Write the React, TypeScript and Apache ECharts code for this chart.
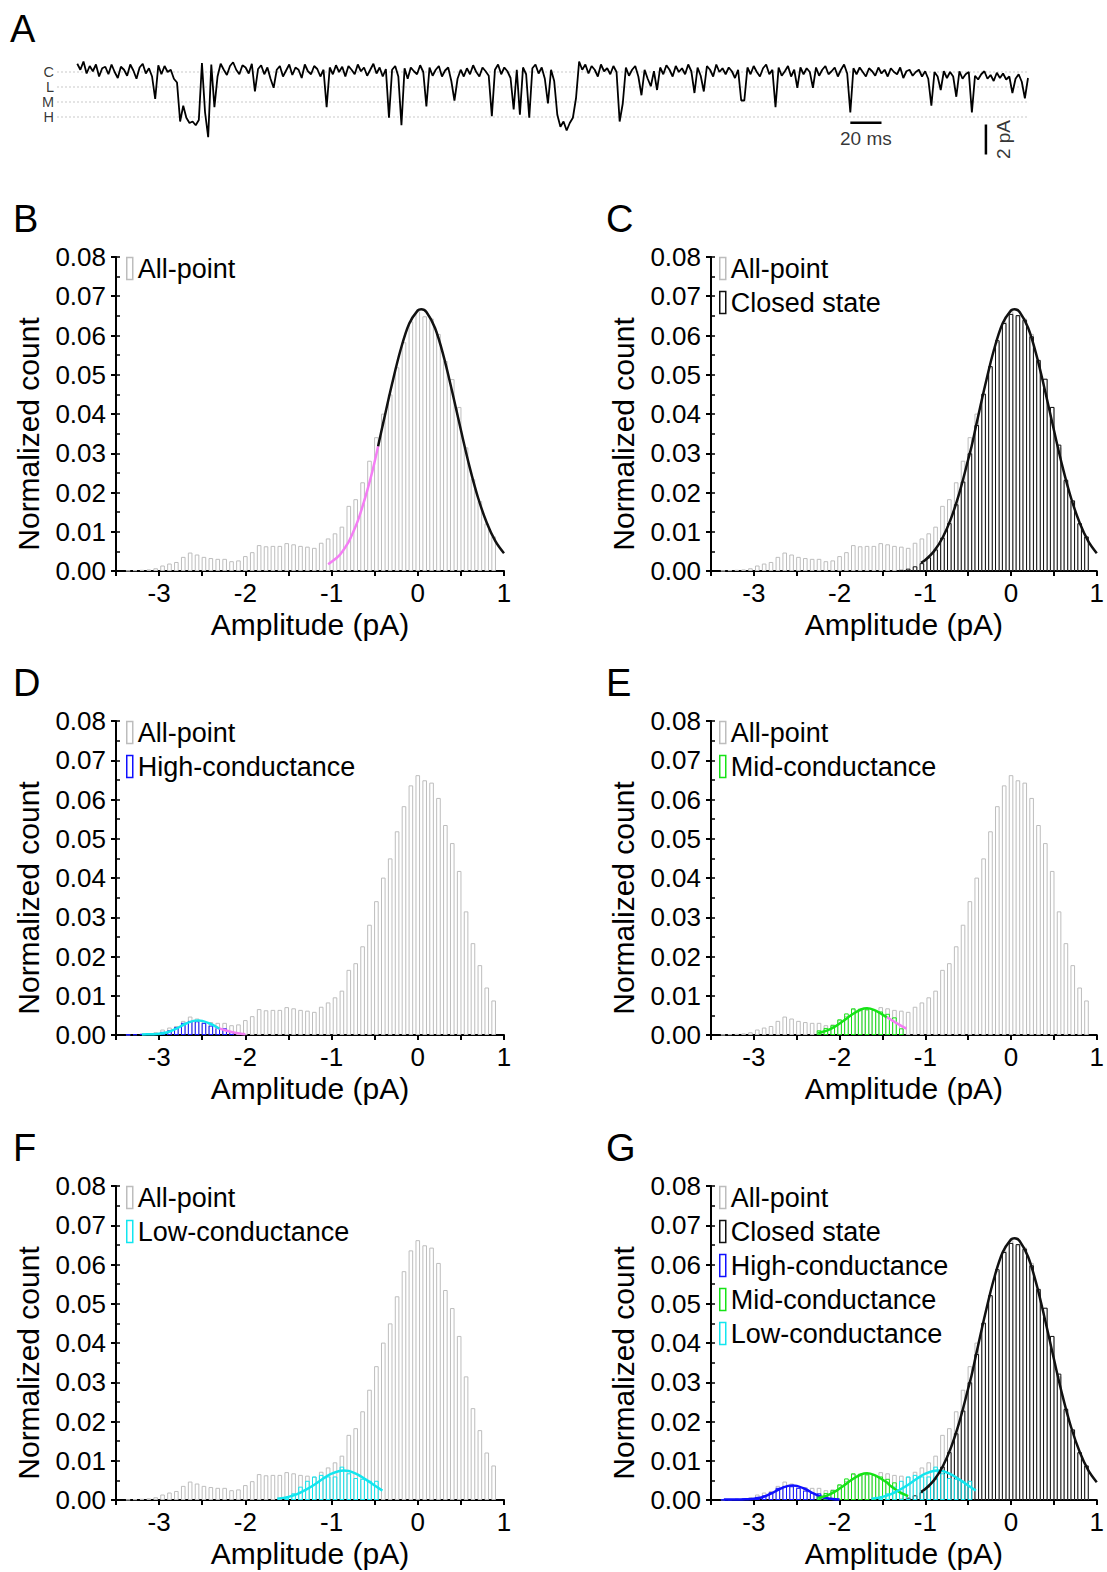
import React, { useEffect, useRef } from 'react';
import * as echarts from 'echarts';

const FONT = '"Liberation Sans", Arial, Helvetica, sans-serif';

// ---------- Panel A: single-channel current trace (pA), one sample every 2 ms ----------
const traceStepMs = 2;
const traceValues = [
  0.55, 0.15, 0.7, -0.1, 0.4, 0.05, 0.5, -0.3, 0.25, 0.35,
  -0.15, 0.5, 0.0, -0.4, 0.35, 0.15, -0.25, 0.5, 0.1, -0.45,
  0.3, 0.55, -0.1, 0.25, -0.3, -1.8, 0.45, -0.15, 0.4, 0.0,
  0.15, -0.45, -0.7, -3.3, -2.25, -3.05, -3.4, -3.3, -3.55, -3.2,
  0.6, -2.7, -4.35, 0.5, -2.35, -0.3, 0.55, 0.15, -0.2, 0.4,
  0.65, 0.15, -0.15, 0.45, 0.3, -0.1, 0.55, -1.3, 0.2, 0.45,
  -0.15, 0.3, -0.45, -1.05, 0.15, 0.4, -0.3, 0.1, 0.5, -0.2,
  0.3, 0.15, -0.4, 0.5, 0.05, -0.15, 0.4, 0.2, -0.3, 0.15,
  -2.35, 0.3, -0.15, 0.45, 0.0, 0.35, -0.3, 0.4, 0.15, -0.15,
  0.5, 0.05, 0.3, -0.25, 0.15, 0.55, -0.1, 0.3, -0.3, 0.2,
  -3.05, 0.15, 0.4, -0.3, -3.55, 0.25, -0.45, 0.3, 0.05, -0.15,
  0.45, 0.0, -2.3, 0.3, -0.25, 0.15, 0.4, -0.3, 0.1, 0.3,
  -0.6, -1.9, -0.45, 0.15, -0.3, 0.25, -0.15, 0.45, 0.0, -0.3,
  0.3, 0.05, -0.25, -2.95, 0.15, 0.5, -0.15, 0.3, 0.05, -0.4,
  -2.5, 0.15, -2.85, 0.3, -0.15, -3.05, 0.25, 0.5, -0.1, 0.3,
  -0.45, -2.1, 0.15, -0.6, -2.85, -3.65, -3.3, -3.9, -3.4, -3.05,
  -1.75, 0.7, 0.15, 0.5, -0.1, 0.4, 0.15, -0.3, 0.5, 0.05,
  0.25, -0.15, 0.4, 0.0, -3.3, -2.1, 0.3, -0.25, 0.15, 0.4,
  -0.3, -1.55, 0.15, -0.45, -0.95, 0.05, -1.2, 0.3, -0.15, 0.45,
  0.15, -0.3, 0.4, 0.0, 0.25, -0.15, 0.5, 0.05, -1.4, 0.3,
  -0.25, -1.3, 0.4, 0.15, -0.3, 0.5, 0.0, 0.25, -0.15, 0.3,
  0.05, -0.4, 0.15, -1.9, -1.9, 0.3, -0.15, 0.4, 0.0, -0.3,
  0.25, 0.5, -0.15, 0.15, -2.35, 0.3, -0.25, 0.05, 0.4, -0.3,
  0.15, -1.05, 0.3, -0.15, 0.25, 0.0, -1.05, 0.3, -0.25, 0.15,
  0.4, -0.15, 0.05, 0.3, -0.3, 0.15, 0.5, -0.1, -2.7, 0.25,
  -0.15, 0.3, 0.0, -0.3, 0.25, 0.05, -0.25, 0.3, -0.1, 0.15,
  -0.3, 0.25, 0.0, -0.15, 0.3, -0.4, 0.05, 0.15, -0.25, 0.0,
  0.15, -0.3, 0.05, -0.45, -2.25, 0.0, -0.3, -1.2, 0.05, -0.4,
  0.0, -0.3, -1.65, 0.05, -0.45, -0.15, 0.0, -2.7, -0.25, -0.5,
  -0.15, 0.05, -0.45, -0.2, -0.6, -0.05, -0.4, -0.1, -0.5, -0.3,
  -1.4, -0.45, -0.15, -0.65, -1.75, -0.4,
];
const traceLevels = [0, -1, -2, -3];
const traceLevelNames = ['C', 'L', 'M', 'H'];
const timeBarMs = [496, 516];
const timeBarLevel = -3.38;
const currentBarTime = 583;
const currentBarPA = [-3.5, -5.5];

// ---------- Histograms ----------
const binCenters = [
  -3.36, -3.28, -3.2, -3.12, -3.04, -2.96, -2.88, -2.8, -2.72, -2.64,
  -2.56, -2.48, -2.4, -2.32, -2.24, -2.16, -2.08, -2.0, -1.92, -1.84,
  -1.76, -1.68, -1.6, -1.52, -1.44, -1.36, -1.28, -1.2, -1.12, -1.04,
  -0.96, -0.88, -0.8, -0.72, -0.64, -0.56, -0.48, -0.4, -0.32, -0.24,
  -0.16, -0.08, 0.0, 0.08, 0.16, 0.24, 0.32, 0.4, 0.48, 0.56,
  0.64, 0.72, 0.8, 0.88,
];
const allPoint = [
  0.0001, 0.0002, 0.0003, 0.0004, 0.0007, 0.0014, 0.0019, 0.0023, 0.0036, 0.0047,
  0.0042, 0.0036, 0.0033, 0.0031, 0.0031, 0.0025, 0.0027, 0.0038, 0.0048, 0.0066,
  0.0063, 0.0064, 0.0064, 0.0071, 0.0068, 0.0064, 0.0062, 0.0059, 0.0072, 0.0083,
  0.0096, 0.0113, 0.0166, 0.0183, 0.0226, 0.0281, 0.0341, 0.0401, 0.045, 0.0519,
  0.0583, 0.0636, 0.0662, 0.0649, 0.0643, 0.0604, 0.0535, 0.0489, 0.0418, 0.0315,
  0.0234, 0.0178, 0.0121, 0.0088,
];
// closed state: bins -1.28 .. 0.88
const closedState = [
  0.0003, 0.0006, 0.0012, 0.002, 0.0035, 0.0055, 0.0085, 0.0122, 0.017, 0.0228,
  0.03, 0.0372, 0.0452, 0.0522, 0.0588, 0.0632, 0.0655, 0.0652, 0.064, 0.0598,
  0.0538, 0.049, 0.0418, 0.0322, 0.0232, 0.018, 0.0122, 0.0088,
];
// high conductance: bins -3.36 .. -2.16
const highCond = [
  0.0001, 0.0002, 0.0003, 0.0004, 0.0005, 0.0008, 0.0012, 0.002, 0.0031, 0.0036,
  0.0035, 0.0031, 0.0024, 0.0018, 0.0017, 0.0008,
];
// mid conductance: bins -2.24 .. -1.28
const midCond = [
  0.0012, 0.0018, 0.0025, 0.004, 0.0055, 0.0068, 0.0067, 0.0067, 0.0064, 0.006,
  0.0054, 0.0045, 0.0017,
];
// low conductance: bins -1.52 .. -0.48
const lowCond = [
  0.0006, 0.0017, 0.0034, 0.0049, 0.006, 0.0064, 0.006, 0.006, 0.0085, 0.0068,
  0.0056, 0.0054, 0.0049, 0.0049,
];

// fitted curves, [amplitude, normalized count]
const closedFit = [
  [-1.05, 0.0021], [-1.0, 0.0028], [-0.9, 0.005], [-0.8, 0.0084], [-0.7, 0.0134],
  [-0.6, 0.0201], [-0.5, 0.0284], [-0.46, 0.0318], [-0.4, 0.0378], [-0.3, 0.0475],
  [-0.2, 0.0563], [-0.1, 0.063], [0.0, 0.0664], [0.04, 0.0667], [0.1, 0.066],
  [0.2, 0.0619], [0.3, 0.0547], [0.4, 0.0456], [0.5, 0.0359], [0.6, 0.0266],
  [0.7, 0.0186], [0.8, 0.0123], [0.9, 0.0076], [1.0, 0.0045],
];
const closedFitB = closedFit.slice(7);
const pinkFitB = [
  [-1.04, 0.0017], [-0.95, 0.0032], [-0.9, 0.0042], [-0.8, 0.0075], [-0.75, 0.0099],
  [-0.7, 0.0125], [-0.64, 0.0165], [-0.58, 0.021], [-0.52, 0.026], [-0.46, 0.0318],
];
const highFit = [
  [-3.35, 0.0001], [-3.2, 0.0001], [-3.1, 0.0002], [-3.0, 0.0003], [-2.9, 0.0007],
  [-2.8, 0.0016], [-2.7, 0.0028], [-2.6, 0.0036], [-2.55, 0.0037], [-2.5, 0.0036],
  [-2.4, 0.0028], [-2.3, 0.0016], [-2.2, 0.0007], [-2.1, 0.0003], [-2.0, 0.0001],
];
const highFitD = highFit.slice(1, 12);
const pinkFitD = [[-2.35, 0.002], [-2.25, 0.0013], [-2.15, 0.0007], [-2.05, 0.0003], [-2.0, 0.0002]];
const midFit = [
  [-2.25, 0.0005], [-2.15, 0.0011], [-2.05, 0.0022], [-1.95, 0.0037], [-1.85, 0.0053],
  [-1.75, 0.0065], [-1.68, 0.0068], [-1.6, 0.0064], [-1.5, 0.0052], [-1.45, 0.0045],
  [-1.4, 0.0035], [-1.3, 0.002], [-1.2, 0.001],
];
const midFitE = midFit.slice(0, 10);
const pinkFitE = [[-1.45, 0.0046], [-1.35, 0.0032], [-1.22, 0.0016]];
const lowFit = [
  [-1.63, 0.0003], [-1.5, 0.0008], [-1.4, 0.0015], [-1.3, 0.0026], [-1.2, 0.0039],
  [-1.1, 0.0054], [-1.0, 0.0067], [-0.86, 0.0075], [-0.8, 0.0074], [-0.7, 0.0065],
  [-0.6, 0.0052], [-0.5, 0.0037], [-0.41, 0.0024],
];

const xTicks = { min: -3.5, max: 1, interval: 0.5 };
const yTicks = { min: 0, max: 0.08, interval: 0.01, minor: 0.005 };

const GRAY = '#bdbdbd';
const BLACK = '#111111';
const BLUE = '#1010ff';
const GREEN = '#16e316';
const CYAN = '#12e6ef';
const PINK = '#f47ef4';

const barSets: Record<string, any> = {
  all: { name: 'All-point', bins: binCenters, values: allPoint, border: GRAY, fill: '#ffffff' },
  closed: { name: 'Closed state', bins: binCenters.slice(26), values: closedState, border: BLACK, fill: 'rgba(255,255,255,0)' },
  high: { name: 'High-conductance', bins: binCenters.slice(0, 16), values: highCond, border: BLUE, fill: 'rgba(255,255,255,0)' },
  mid: { name: 'Mid-conductance', bins: binCenters.slice(14, 27), values: midCond, border: GREEN, fill: 'rgba(255,255,255,0)' },
  low: { name: 'Low-conductance', bins: binCenters.slice(23, 37), values: lowCond, border: CYAN, fill: 'rgba(255,255,255,0)' },
};

const panels = [
  { letter: 'B', col: 0, row: 0, bars: ['all'], curves: [[pinkFitB, PINK], [closedFitB, BLACK]] },
  { letter: 'C', col: 1, row: 0, bars: ['all', 'closed'], curves: [[closedFit, BLACK]] },
  { letter: 'D', col: 0, row: 1, bars: ['all', 'high'], curves: [[pinkFitD, PINK], [highFitD, CYAN]] },
  { letter: 'E', col: 1, row: 1, bars: ['all', 'mid'], curves: [[pinkFitE, PINK], [midFitE, GREEN]] },
  { letter: 'F', col: 0, row: 2, bars: ['all', 'low'], curves: [[lowFit, CYAN]] },
  {
    letter: 'G', col: 1, row: 2, bars: ['all', 'closed', 'high', 'mid', 'low'],
    curves: [[highFit, BLUE], [midFit, GREEN], [lowFit, CYAN], [closedFit, BLACK]],
  },
];

// layout (px)
const colLeft = [116, 711];
const gridWidth = 388;
const rowTop = [257, 721, 1186];
const gridHeight = 314;
const legendLeft = [126, 719];
const traceGrid = { left: 57, top: 54, width: 971, height: 108 };
const traceX = { min: -13, max: 610 };
const traceY = { min: -6, max: 1.2 };

function buildOption() {
  const grid: any[] = [];
  const xAxis: any[] = [];
  const yAxis: any[] = [];
  const series: any[] = [];
  const legend: any[] = [];
  const graphic: any[] = [];

  // ---- trace panel
  grid.push({ ...traceGrid });
  xAxis.push({ type: 'value', gridIndex: 0, min: traceX.min, max: traceX.max, show: false });
  yAxis.push({ type: 'value', gridIndex: 0, min: traceY.min, max: traceY.max, show: false });
  traceLevels.forEach((lv, i) => {
    series.push({
      type: 'line', name: 'level-' + traceLevelNames[i], xAxisIndex: 0, yAxisIndex: 0,
      data: [[traceX.min, lv], [traceX.max, lv]], symbol: 'none', silent: true, z: 1,
      lineStyle: { color: '#c9c9c9', width: 1, type: [2, 2] },
    });
  });
  series.push({
    type: 'scatter', name: 'level-labels', xAxisIndex: 0, yAxisIndex: 0, symbolSize: 0, silent: true,
    itemStyle: { color: '#000000' },
    data: traceLevels.map((lv, i) => ({ value: [traceX.min, lv], name: traceLevelNames[i] })),
    label: {
      show: true, position: 'left', distance: 3, formatter: (p: any) => p.name,
      fontSize: 14.5, lineHeight: 14, fontFamily: FONT, color: '#000000', textBorderWidth: 0,
    },
  });
  series.push({
    type: 'line', name: 'trace', xAxisIndex: 0, yAxisIndex: 0, symbol: 'none', z: 3,
    data: traceValues.map((v, i) => [i * traceStepMs, v]),
    lineStyle: { color: '#000', width: 1.8 },
  });
  series.push({
    type: 'line', name: 'time-bar', xAxisIndex: 0, yAxisIndex: 0, symbol: 'none',
    data: [[timeBarMs[0], timeBarLevel], [timeBarMs[1], timeBarLevel]],
    lineStyle: { color: '#000', width: 2.5 },
  });
  series.push({
    type: 'line', name: 'current-bar', xAxisIndex: 0, yAxisIndex: 0, symbol: 'none',
    data: [[currentBarTime, currentBarPA[0]], [currentBarTime, currentBarPA[1]]],
    lineStyle: { color: '#000', width: 2.5 },
  });
  series.push({
    type: 'scatter', name: 'bar-labels', xAxisIndex: 0, yAxisIndex: 0, symbolSize: 0, silent: true,
    itemStyle: { color: '#000000' },
    data: [
      { value: [(timeBarMs[0] + timeBarMs[1]) / 2, -4.4], name: '20 ms', label: { rotate: 0 } },
      { value: [currentBarTime + 11, -4.5], name: '2 pA', label: { rotate: 90 } },
    ],
    label: {
      show: true, position: 'inside', formatter: (p: any) => p.name, fontSize: 19, fontFamily: FONT,
      color: '#000000', textBorderWidth: 0,
    },
  });

  // ---- histogram panels
  panels.forEach((p, idx) => {
    const g = idx + 1;
    grid.push({ left: colLeft[p.col], top: rowTop[p.row], width: gridWidth, height: gridHeight });
    xAxis.push({
      type: 'value', gridIndex: g, min: xTicks.min, max: xTicks.max, interval: xTicks.interval,
      axisLine: { show: true, onZero: false, lineStyle: { color: '#000', width: 2 } },
      axisTick: { show: true, inside: false, length: 5, lineStyle: { color: '#000', width: 2 } },
      axisLabel: {
        show: true, margin: 9, fontSize: 26, fontFamily: FONT, color: '#000', hideOverlap: false,
        showMinLabel: true, showMaxLabel: true,
        formatter: (v: number) => (Math.abs(v - Math.round(v)) < 1e-6 ? String(Math.round(v)) : ''),
      },
      splitLine: { show: false },
      name: 'Amplitude (pA)', nameLocation: 'middle', nameGap: 38,
      nameTextStyle: { fontSize: 30, fontFamily: FONT, color: '#000' },
    });
    const yMain = yAxis.length;
    yAxis.push({
      type: 'value', gridIndex: g, position: 'left', min: yTicks.min, max: yTicks.max, interval: yTicks.interval,
      axisLine: { show: true, onZero: false, lineStyle: { color: '#000', width: 2 } },
      axisTick: { show: true, inside: false, length: 5, lineStyle: { color: '#000', width: 2 } },
      axisLabel: {
        show: true, margin: 10, fontSize: 26, fontFamily: FONT, color: '#000',
        formatter: (v: number) => v.toFixed(2),
      },
      splitLine: { show: false },
      name: 'Normalized count', nameLocation: 'middle', nameGap: 73,
      nameTextStyle: { fontSize: 30, fontFamily: FONT, color: '#000', padding: [0, 40, 0, 0] },
    });
    yAxis.push({
      type: 'value', gridIndex: g, position: 'left', min: yTicks.min, max: yTicks.max, interval: yTicks.minor,
      axisLine: { show: false, onZero: false }, axisLabel: { show: false }, splitLine: { show: false },
      axisTick: { show: true, inside: true, length: 4, lineStyle: { color: '#000', width: 1.5 } },
    });

    p.bars.forEach((key, bi) => {
      const b = barSets[key];
      series.push({
        type: 'bar', name: b.name, xAxisIndex: g, yAxisIndex: yMain, barWidth: 4.6, barGap: '-100%',
        data: b.bins.map((x: number, i: number) => [x, b.values[i]]), z: 2 + bi * 0.01, silent: true,
        itemStyle: { color: b.fill, borderColor: b.border, borderWidth: 1 },
      });
    });
    p.curves.forEach((c: any, ci: number) => {
      series.push({
        type: 'line', name: 'fit-' + p.letter + '-' + ci, xAxisIndex: g, yAxisIndex: yMain,
        data: c[0], symbol: 'none', smooth: 0.35, z: 5 + ci * 0.01, silent: true,
        lineStyle: { color: c[1], width: 2.5 },
      });
    });
    legend.push({
      left: legendLeft[p.col], top: rowTop[p.row] - 2, orient: 'vertical', padding: 0,
      itemWidth: 6, itemHeight: 22, itemGap: 7, icon: 'rect', selectedMode: false,
      textStyle: { fontSize: 27, fontFamily: FONT, color: '#000', lineHeight: 26 },
      data: p.bars.map((key) => ({
        name: barSets[key].name,
        itemStyle: { color: '#ffffff', borderColor: barSets[key].border, borderWidth: 1.5 },
      })),
    });
    graphic.push({
      type: 'text', left: p.col === 0 ? 13 : 606, top: rowTop[p.row] - 57,
      style: { text: p.letter, fontSize: 38, fontFamily: FONT, fill: '#000' },
    });
  });
  graphic.push({ type: 'text', left: 10, top: 10, style: { text: 'A', fontSize: 38, fontFamily: FONT, fill: '#000' } });

  return { animation: false, backgroundColor: '#ffffff', grid, xAxis, yAxis, series, legend, graphic };
}

export default function App() {
  const ref = useRef<HTMLDivElement>(null);
  useEffect(() => {
    document.body.style.margin = '0';
    if (!ref.current) return;
    const chart = echarts.init(ref.current, undefined, { renderer: 'svg' });
    chart.setOption(buildOption());
    return () => chart.dispose();
  }, []);
  return <div ref={ref} style={{ width: 1107, height: 1572 }} />;
}
